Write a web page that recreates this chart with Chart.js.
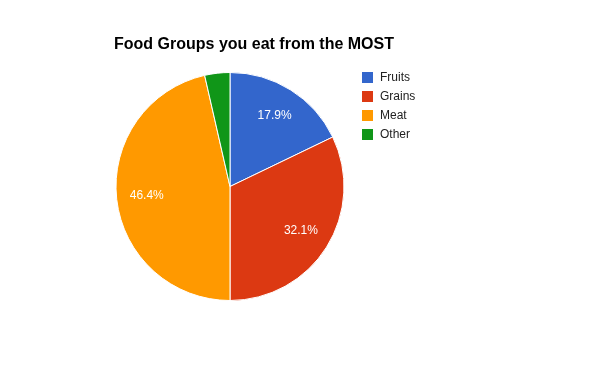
<!DOCTYPE html>
<html>
<head>
<meta charset="utf-8">
<script src="https://cdn.jsdelivr.net/npm/chart.js@4/dist/chart.umd.min.js"></script>
<style>
  html, body { margin: 0; padding: 0; background: #fff; }
  #wrap { width: 600px; height: 371px; position: relative; }
</style>
</head>
<body>
<div id="wrap"><canvas id="chart" width="600" height="371"></canvas></div>
<script>
const chartTitle = "Food Groups you eat from the MOST";
const labels = ["Fruits", "Grains", "Meat", "Other"];
const values = [5, 9, 13, 1];
const colors = ["#3366cc", "#dc3912", "#ff9900", "#109618"];

const font = "Arial, 'Liberation Sans', sans-serif";

// title, slice percentages and the legend list are drawn here
const extras = {
    id: "extras",
    afterDatasetsDraw(chart) {
        const ctx = chart.ctx;
        const meta = chart.getDatasetMeta(0);
        const total = values.reduce((a, b) => a + b, 0);

        ctx.save();
        ctx.fillStyle = "#ffffff";
        ctx.font = "12px " + font;
        ctx.textAlign = "center";
        ctx.textBaseline = "middle";
        meta.data.forEach((arc, i) => {
            const pct = values[i] / total * 100;
            if (pct < 5) return;
            const mid = (arc.startAngle + arc.endAngle) / 2;
            const r = arc.outerRadius * 0.735;
            ctx.fillText(pct.toFixed(1) + "%", arc.x + Math.cos(mid) * r, arc.y + Math.sin(mid) * r);
        });

        ctx.fillStyle = "#000000";
        ctx.font = "bold 16px " + font;
        ctx.textAlign = "left";
        ctx.fillText(chartTitle, 114, 45);

        ctx.font = "12px " + font;
        labels.forEach((l, i) => {
            const y = 77 + i * 19;
            ctx.fillStyle = colors[i];
            ctx.fillRect(362, y - 5, 11, 11);
            ctx.fillStyle = "#222222";
            ctx.fillText(l, 380, y + 1);
        });
        ctx.restore();
    }
};

new Chart(document.getElementById("chart"), {
    type: "pie",
    data: {
        labels: labels,
        datasets: [{
            data: values,
            backgroundColor: colors,
            borderColor: "#ffffff",
            borderWidth: 1
        }]
    },
    options: {
        responsive: false,
        animation: false,
        layout: { padding: { left: 115, top: 72, right: 255, bottom: 70 } },
        plugins: {
            legend: { display: false },
            tooltip: { enabled: false }
        }
    },
    plugins: [extras]
});
</script>
</body>
</html>
